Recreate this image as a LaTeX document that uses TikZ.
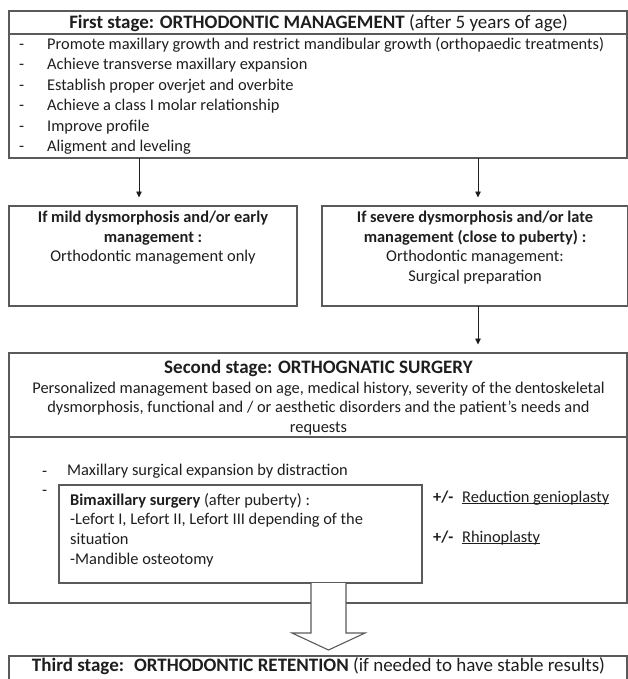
\documentclass[tikz,border=0pt]{standalone}
\usepackage{fontspec}
\setmainfont{Carlito}
\usetikzlibrary{arrows.meta,positioning}
\definecolor{linegray}{HTML}{5A5A5A}
\definecolor{inkgray}{HTML}{1E1E1E}
\newcommand{\bodyfont}{\fontsize{16.4}{19.6}\selectfont}
\newcommand{\headfont}{\fontsize{19}{23}\selectfont}
\newcommand{\ulword}[1]{\underline{\smash{#1}}}
\tikzset{
	box/.style={draw=linegray, line width=1.1pt, inner sep=0pt, outer sep=0pt, anchor=north west},
	txt/.style={inner sep=0pt, text=inkgray, font=\bodyfont},
	head/.style={inner sep=0pt, text=inkgray, font=\headfont},
	arr/.style={draw=inkgray, line width=0.8pt, -{Triangle[width=5.5pt,length=6pt]}, shorten >=8.5pt}
}
\begin{document}
\begin{tikzpicture}[x=1pt,y=-1pt]
	\useasboundingbox (0,0) rectangle (628,679);
	\clip (0,0) rectangle (628,679);
	% first stage
	\node[box, minimum width=618pt, minimum height=147pt] (first) at (9,11) {};
	\draw[linegray, line width=1.1pt] ([yshift=-23pt]first.north west) -- ([yshift=-23pt]first.north east);
	\node[head, anchor=base] (firsttitle) at (318.5,28.5) {\textbf{First stage: ORTHODONTIC MANAGEMENT} (after 5 years of age)};
	\foreach \entry [count=\i] in {Promote maxillary growth and restrict mandibular growth (orthopaedic treatments), Achieve transverse maxillary expansion, Establish proper overjet and overbite, Achieve a class I molar relationship, Improve profile, Aligment and leveling}{
		\node[txt, anchor=base west] (dash\i) at (19,29.1+20.4*\i) {-};
		\node[txt, anchor=base west] (goal\i) at (47,29.1+20.4*\i) {\entry};
	}
	% the two cases
	\node[box, minimum width=288pt, minimum height=100pt] (mild) at (9,206) {};
	\node[box, minimum width=306pt, minimum height=100pt] (severe) at (322,206) {};
	\node[txt, align=center, anchor=north] (mildtxt) at (153,211) {\textbf{If mild dysmorphosis and/or early}\\\textbf{management :}\\Orthodontic management only};
	\node[txt, align=center, anchor=north] (severetxt) at (475,211) {\textbf{If severe dysmorphosis and/or late}\\\textbf{management (close to puberty) :}\\Orthodontic management:\\Surgical preparation};
	% second stage
	\node[box, minimum width=618pt, minimum height=250pt] (second) at (9,353) {};
	\draw[linegray, line width=1.1pt] ([yshift=-84pt]second.north west) -- ([yshift=-84pt]second.north east);
	\node[head, anchor=base] (secondtitle) at (318.5,373) {\textbf{Second stage: ORTHOGNATIC SURGERY}};
	\node[txt, align=center, anchor=north] (secondtxt) at (318.5,381.5) {Personalized management based on age, medical history, severity of the dentoskeletal\\dysmorphosis, functional and / or aesthetic disorders and the patient{\char"0027}s needs and\\requests};
	\node[txt, anchor=base west] (dash7) at (42,476) {-};
	\node[txt, anchor=base west] (distraction) at (67,475) {Maxillary surgical expansion by distraction};
	\node[txt, anchor=base west] (dash8) at (42,495) {-};
	\node[box, minimum width=363pt, minimum height=98pt] (bimax) at (59,485) {};
	\node[txt, align=left, anchor=north west] (bimaxtxt) at (70,493) {\textbf{Bimaxillary surgery} (after puberty) :\\-Lefort I, Lefort II, Lefort III depending of the\\situation\\-Mandible osteotomy};
	\node[txt, anchor=base west] (plusminus1) at (433,502) {\textbf{+/-}};
	\node[txt, anchor=base west] (genio) at (462,502) {\ulword{Reduction genioplasty}};
	\node[txt, anchor=base west] (plusminus2) at (433,542) {\textbf{+/-}};
	\node[txt, anchor=base west] (rhino) at (462,542) {\ulword{Rhinoplasty}};
	% arrows
	\coordinate (leftdrop) at (139,0);
	\coordinate (rightdrop) at (478,0);
	\draw[arr] (first.south -| leftdrop) -- (mild.north -| leftdrop);
	\draw[arr] (first.south -| rightdrop) -- (severe.north -| rightdrop);
	\draw[arr] (severe.south -| rightdrop) -- (second.north -| rightdrop);
	\draw[linegray, fill=white, line width=1.1pt] (311,583) -- (311,633) -- (292,633) -- (328.5,650) -- (365,633) -- (346,633) -- (346,583);
	% third stage
	\node[box, minimum width=618pt, minimum height=40pt] (third) at (9,656) {};
	\node[head, anchor=base] (thirdtitle) at (318.5,671) {\textbf{Third stage:~ ORTHODONTIC RETENTION} (if needed to have stable results)};
\end{tikzpicture}
\end{document}
